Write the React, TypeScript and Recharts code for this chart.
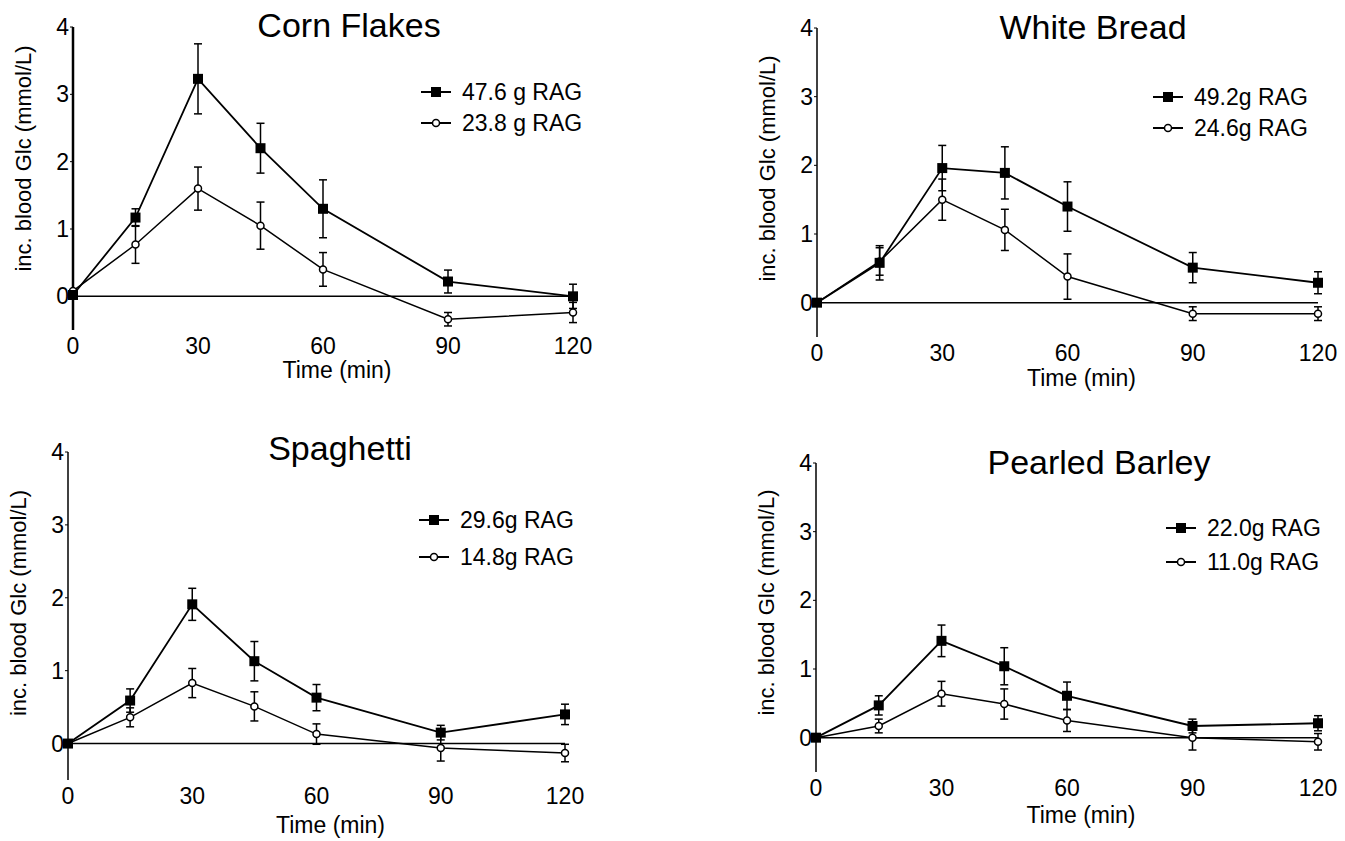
import React from 'react';
import {
    LineChart,
    Line,
    XAxis,
    YAxis,
    ErrorBar,
    ReferenceLine,
    Legend
} from 'recharts';

const FONT = '"Liberation Sans", Arial, Helvetica, sans-serif';

// sampling times (min)
const times = [0, 15, 30, 45, 60, 90, 120];
const xTicks = [0, 30, 60, 90, 120];
const yTicks = [0, 1, 2, 3, 4];

// Corn Flakes
const cornHigh = [0.02, 1.17, 3.23, 2.2, 1.3, 0.22, 0.0];
const cornHighErr = [0, 0.13, 0.52, 0.37, 0.43, 0.17, 0.18];
const cornLow = [0.08, 0.77, 1.6, 1.05, 0.4, -0.34, -0.24];
const cornLowErr = [0, 0.28, 0.32, 0.35, 0.25, 0.1, 0.15];

// White Bread
const breadHigh = [0, 0.58, 1.96, 1.89, 1.4, 0.51, 0.29];
const breadHighErr = [0, 0.25, 0.33, 0.38, 0.36, 0.22, 0.16];
const breadLow = [0, 0.6, 1.5, 1.06, 0.38, -0.16, -0.16];
const breadLowErr = [0, 0.2, 0.3, 0.3, 0.33, 0.1, 0.1];

// Spaghetti
const spagHigh = [0, 0.59, 1.91, 1.13, 0.63, 0.15, 0.4];
const spagHighErr = [0, 0.16, 0.22, 0.27, 0.18, 0.1, 0.14];
const spagLow = [0, 0.36, 0.83, 0.51, 0.13, -0.06, -0.13];
const spagLowErr = [0, 0.13, 0.2, 0.2, 0.14, 0.18, 0.12];

// Pearled Barley
const barleyHigh = [0, 0.47, 1.41, 1.04, 0.61, 0.17, 0.21];
const barleyHighErr = [0, 0.14, 0.23, 0.27, 0.2, 0.1, 0.11];
const barleyLow = [0, 0.17, 0.64, 0.49, 0.25, 0.0, -0.06];
const barleyLowErr = [0, 0.1, 0.18, 0.22, 0.16, 0.18, 0.12];

const build = (hi: number[], hiErr: number[], lo: number[], loErr: number[]) =>
    times.map((t, i) => ({ t, hi: hi[i], hiErr: hiErr[i], lo: lo[i], loErr: loErr[i] }));

interface PanelCfg {
    title: string;
    names: [string, string];
    data: ReturnType<typeof build>;
    axisX: number; // pixel x of the y axis
    x120: number; // pixel x of t = 120
    y4: number; // pixel y of value 4
    yBottom: number; // pixel y of value -0.5
    titleCx: number;
    titleCy: number;
    legendX: number;
    legendY: number;
    legendGap: number;
    yLabelShift: number;
    timeDy: number;
    axisWidth: number;
}

const panels: PanelCfg[] = [
    {
        title: 'Corn Flakes', names: ['47.6 g RAG', '23.8 g RAG'],
        data: build(cornHigh, cornHighErr, cornLow, cornLowErr),
        axisX: 73, x120: 573, y4: 27, yBottom: 330,
        titleCx: 349, titleCy: 25, legendX: 420, legendY: 92, legendGap: 31,
        yLabelShift: -20, timeDy: 48, axisWidth: 2.5
    },
    {
        title: 'White Bread', names: ['49.2g RAG', '24.6g RAG'],
        data: build(breadHigh, breadHighErr, breadLow, breadLowErr),
        axisX: 817, x120: 1318, y4: 28, yBottom: 337,
        titleCx: 1093, titleCy: 27, legendX: 1152, legendY: 97, legendGap: 31,
        yLabelShift: -14, timeDy: 49, axisWidth: 1.5
    },
    {
        title: 'Spaghetti', names: ['29.6g RAG', '14.8g RAG'],
        data: build(spagHigh, spagHighErr, spagLow, spagLowErr),
        axisX: 68, x120: 565, y4: 452, yBottom: 780,
        titleCx: 340, titleCy: 448, legendX: 418, legendY: 520, legendGap: 37,
        yLabelShift: -13, timeDy: 53, axisWidth: 1.5
    },
    {
        title: 'Pearled Barley', names: ['22.0g RAG', '11.0g RAG'],
        data: build(barleyHigh, barleyHighErr, barleyLow, barleyLowErr),
        axisX: 816, x120: 1318, y4: 463, yBottom: 772,
        titleCx: 1099, titleCy: 462, legendX: 1165, legendY: 528, legendGap: 34,
        yLabelShift: -15, timeDy: 51, axisWidth: 1.5
    }
];

const SquareDot = (props: any) => {
    const { cx, cy, index } = props;
    if (cx == null || cy == null) return <g key={`sq-${index}`} />;
    return <rect key={`sq-${index}`} x={cx - 5} y={cy - 5} width={10} height={10} fill="#000" />;
};

const LegendIcon = ({ square }: { square: boolean }) => (
    <svg width={34} height={14} style={{ display: 'block' }}>
        <line x1={1} y1={7} x2={31} y2={7} stroke="#000" strokeWidth={2} />
        {square
            ? <rect x={11} y={2} width={10} height={10} fill="#000" />
            : <circle cx={16} cy={7} r={3.5} fill="#fff" stroke="#000" strokeWidth={1.5} />}
    </svg>
);

const Panel = ({ cfg }: { cfg: PanelCfg }) => {
    const mL = 20, yAxisW = 60, mT = 40, mR = 40, xAxisH = 60;
    const plotW = cfg.x120 - cfg.axisX;
    const plotH = cfg.yBottom - cfg.y4;
    const W = mL + yAxisW + plotW + mR;
    const H = mT + plotH + xAxisH;
    const left = cfg.axisX - mL - yAxisW;
    const top = cfg.y4 - mT;

    const legendContent = () => (
        <div style={{ fontFamily: FONT, fontSize: 23, color: '#000' }}>
            {cfg.names.map((n, i) => (
                <div key={n} style={{ display: 'flex', alignItems: 'center', height: cfg.legendGap }}>
                    <LegendIcon square={i === 0} />
                    <span style={{ marginLeft: 8, whiteSpace: 'nowrap' }}>{n}</span>
                </div>
            ))}
        </div>
    );

    return (
        <>
            <div
                style={{
                    position: 'absolute', left: cfg.titleCx - 200, width: 400, top: cfg.titleCy - 20,
                    textAlign: 'center', fontFamily: FONT, fontSize: 34, lineHeight: '40px', color: '#000'
                }}
            >
                {cfg.title}
            </div>
            <div style={{ position: 'absolute', left, top }}>
                <LineChart width={W} height={H} data={cfg.data} margin={{ top: mT, right: mR, left: mL, bottom: 0 }}>
                    <XAxis
                        dataKey="t"
                        type="number"
                        domain={[0, 120]}
                        ticks={xTicks}
                        height={xAxisH}
                        axisLine={false}
                        tickLine={false}
                        tick={{ fill: '#000', fontSize: 23, fontFamily: FONT }}
                        label={{
                            content: ({ viewBox }: any) => (
                                <text
                                    x={viewBox.x + viewBox.width / 2 + 14}
                                    y={viewBox.y + cfg.timeDy}
                                    textAnchor="middle"
                                    fontSize={23}
                                    fontFamily={FONT}
                                    fill="#000"
                                >
                                    Time (min)
                                </text>
                            )
                        }}
                    />
                    <YAxis
                        type="number"
                        domain={[-0.5, 4]}
                        ticks={yTicks}
                        width={yAxisW}
                        axisLine={{ stroke: '#000', strokeWidth: cfg.axisWidth }}
                        tickLine={{ stroke: '#000' }}
                        tickSize={3}
                        tickMargin={1}
                        tick={{ fill: '#000', fontSize: 23, fontFamily: FONT }}
                        label={{
                            content: ({ viewBox }: any) => {
                                const x = viewBox.x + viewBox.width - 50;
                                const y = viewBox.y + viewBox.height / 2 + cfg.yLabelShift;
                                return (
                                    <text
                                        x={x}
                                        y={y}
                                        transform={`rotate(-90, ${x}, ${y})`}
                                        textAnchor="middle"
                                        dominantBaseline="central"
                                        fontSize={22}
                                        fontFamily={FONT}
                                        fill="#000"
                                    >
                                        inc. blood Glc (mmol/L)
                                    </text>
                                );
                            }
                        }}
                    />
                    <ReferenceLine y={0} stroke="#000" strokeWidth={1.5} />
                    <Legend
                        layout="horizontal"
                        verticalAlign="middle"
                        align="center"
                        content={legendContent}
                        wrapperStyle={{ left: cfg.legendX - left, top: cfg.legendY - top - cfg.legendGap / 2, width: 'auto' }}
                    />
                    <Line
                        dataKey="lo"
                        stroke="#000"
                        strokeWidth={1.5}
                        dot={{ r: 3.5, fill: '#fff', stroke: '#000', strokeWidth: 1.5 }}
                        isAnimationActive={false}
                        name={cfg.names[1]}
                    >
                        <ErrorBar dataKey="loErr" width={4} stroke="#000" strokeWidth={1.5} direction="y" />
                    </Line>
                    <Line
                        dataKey="hi"
                        stroke="#000"
                        strokeWidth={1.8}
                        dot={SquareDot}
                        isAnimationActive={false}
                        name={cfg.names[0]}
                    >
                        <ErrorBar dataKey="hiErr" width={4} stroke="#000" strokeWidth={1.5} direction="y" />
                    </Line>
                </LineChart>
            </div>
        </>
    );
};

export default function App() {
    return (
        <div style={{ position: 'absolute', left: 0, top: 0, width: 1345, height: 841, background: '#fff' }}>
            {panels.map(p => <Panel key={p.title} cfg={p} />)}
        </div>
    );
}
